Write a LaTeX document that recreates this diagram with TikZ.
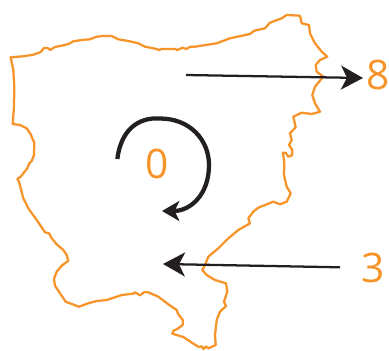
\documentclass[tikz,border=0pt]{standalone}
\usepackage{fontspec}
\setmainfont{Open Sans}
\usetikzlibrary{arrows.meta}
\definecolor{outl}{RGB}{247,148,41}
\definecolor{ink}{RGB}{35,31,32}
\tikzset{x=0.75pt,y=-0.75pt,
 outlinepath/.style={draw=outl,line width=1.7pt,line join=round},
 flowarrow/.style={draw=ink,line width=1.7pt,-{Stealth[length=16.5pt,width=18pt,inset=4.5pt]}},
 turnarrow/.style={draw=ink,line width=3.2pt,-{Stealth[length=13pt,width=15pt,inset=3.5pt]}},
 numlabel/.style={text=outl,font=\fontsize{30.5}{32}\selectfont,inner sep=0pt}}
\begin{document}
\begin{tikzpicture}
\useasboundingbox (0,0) rectangle (389,350);
\draw[outlinepath] (10.7,57.3)--(23.3,56.3)--(33.3,54.7)--(40.7,52)--(44,48)--(47.7,48)--(50,50)--(55,47)--(63.3,45.3)--(69.3,43.7)--(73.3,41.3)--(81.7,40)--(90,39.3)--(96.7,36.7)--(103.3,36)--(111.7,36)--(118.3,39.3)--(128.3,41)--(138.3,43.3)--(145,46.7)--(156.7,49)--(159.3,50)--(161.7,49)--(175,49)--(177.3,50)--(182.7,47.7)--(186,49)--(190.7,46.7)--(195,46.7)
--(216.7,43.3)--(230,38.3)--(250,34)--(254.3,30.7)--(265,28.3)--(270,22.7)--(281.7,18.3)--(286.7,15)--(300,15.7)--(301.7,23.3)--(309,25)--(310,33.3)--(315,43.3)--(321.7,51.7)--(327.3,56.7)--(320,60)--(315.7,65)--(316.7,71.7)--(323.3,76.7)--(315,86.7)--(312.3,95)--(315,103.3)--(320,111.7)--(311.7,114)--(301.7,112.7)--(293.3,116.7)--(295.7,127.3)--(290,133.3)--(291.7,140)--(289,145)--(292.3,150)--(292.3,155)--(288.3,156.7)--(285.7,152.7)--(283,152.7)--(284.3,163.3)--(284,175)
--(286.7,186.7)--(290.7,193.3)--(286.7,201.7)--(280,204.3)--(273.3,201.7)--(258.3,207.7)--(253.3,211.7)--(248.3,218.3)--(250,223.3)--(238.3,230)--(228.3,238.3)--(218.3,248.3)--(208.3,256.7)--(205,265)--(202.3,270)--(206.7,275)--(215,280)--(226,283.3)--(227.3,291.7)--(224,301.7)--(226,306)--(220,311.7)--(216.7,320)--(215,335)--(215.7,345)--(208.5,348.3)--(206,346.5)--(203.3,349)--(201.7,346.3)--(199,347)
--(195,344.7)--(183.3,337)--(172.3,333.7)--(173.3,331)--(178.3,328.3)--(182.7,325)--(183,320.3)--(178.3,314.3)--(176.7,310)--(168.3,304.3)--(158.3,296.7)--(148.3,292.3)--(144,292.3)--(140,295.3)--(135,292.3)--(133.3,293.7)--(121.7,295)--(106.7,300)--(96.7,301)--(88.3,303.3)--(79,306.7)--(65.7,301.7)--(60,293.3)--(55,285.7)--(54,279)--(56.7,271.7)--(61.7,265.7)--(68.3,260.7)--(66.7,255)--(63.3,250)--(56.7,244.3)--(51.7,238.3)--(49,233.3)--(45,232.3)--(36.7,220)--(28.3,208.3)--(23.3,198.3)--(20.7,188.3)--(19,181.7)--(17.3,179)--(20.7,176.7)
--(27.3,168.3)--(29.3,163.3)--(31.7,161)--(34,155)--(34.3,141.7)--(33.3,140.7)--(30.7,134.3)--(26.7,128.3)--(20,125)--(12.7,124)--(14,106.7)--(14.3,86.7)--(13.3,70)--cycle;
\node[numlabel] (zero) at (156.7,164) {0};
\node[numlabel] (eight) at (378,75) {8};
\node[numlabel] (three) at (373,268) {3};
\coordinate (a1) at (186,75);
\coordinate (a2) at (363,78);
\coordinate (b1) at (340,267.3);
\coordinate (b2) at (163,264);
\coordinate (c1) at (117.3,159);
\coordinate (c2) at (160,118.5);
\coordinate (c3) at (209,165);
\coordinate (c4) at (162,211);
\draw[flowarrow] (a1) -- (a2);
\draw[flowarrow] (b1) -- (b2);
\draw[turnarrow] (c1) .. controls (121,130) and (138,117) .. (c2) .. controls (190,118.5) and (209,140) .. (c3) .. controls (209,195) and (190,211) .. (c4);
\end{tikzpicture}
\end{document}
